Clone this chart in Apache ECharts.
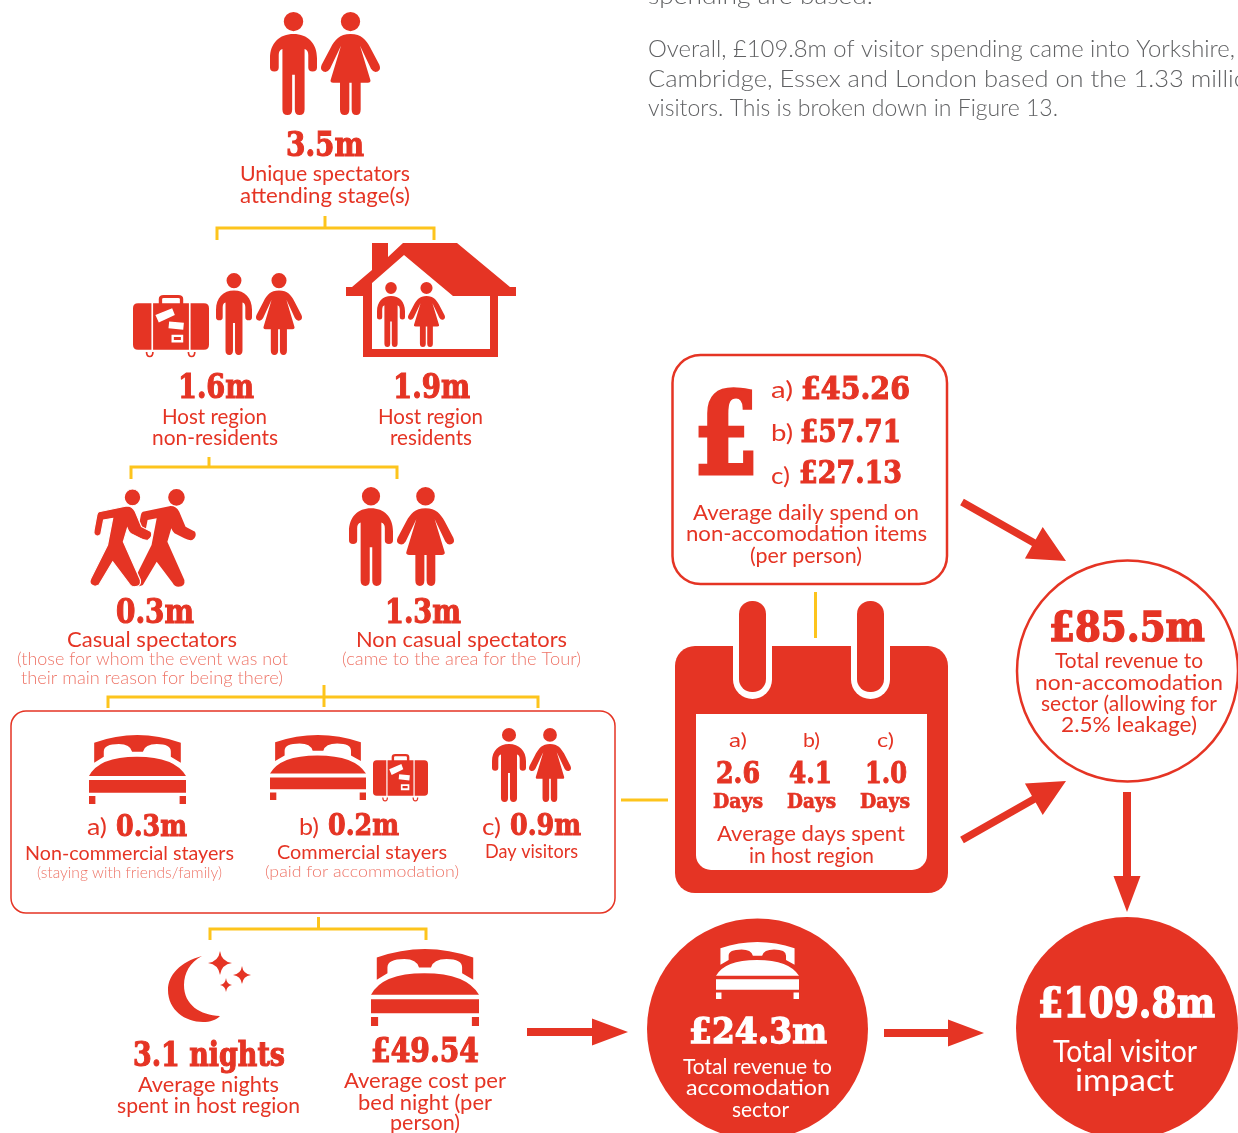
<!DOCTYPE html>
<html><head><meta charset="utf-8">
<style>html,body{margin:0;padding:0;background:#fff;overflow:hidden}#c{width:1238px;height:1133px}</style>
<script src="https://cdn.jsdelivr.net/npm/echarts@6/dist/echarts.min.js"></script>
</head><body><div id="c"></div>
<script>
// ---------- content ----------
const introLines = ['spending are based.','Overall, £109.8m of visitor spending came into Yorkshire,','Cambridge, Essex and London based on the 1.33 million','visitors. This is broken down in Figure 13.'];
const audienceValues = ['3.5m','1.6m','1.9m','0.3m','1.3m'];
const audienceLabels = [['Unique spectators','attending stage(s)'],['Host region','non-residents'],['Host region','residents'],['Casual spectators'],['Non casual spectators']];
const audienceNotes = [['(those for whom the event was not','their main reason for being there)'],['(came to the area for the Tour)']];
const stayerKeys = ['a)','b)','c)'];
const stayerValues = ['0.3m','0.2m','0.9m'];
const stayerLabels = ['Non-commercial stayers','Commercial stayers','Day visitors'];
const stayerNotes = ['(staying with friends/family)','(paid for accommodation)'];
const nightsValues = ['3.1 nights','£49.54'];
const nightsLabels = [['Average nights','spent in host region'],['Average cost per','bed night (per','person)']];
const spendValues = ['£45.26','£57.71','£27.13'];
const spendLabel = ['Average daily spend on','non-accomodation items','(per person)'];
const daysValues = ['2.6','4.1','1.0'];
const daysUnit = 'Days';
const daysLabel = ['Average days spent','in host region'];
const totalValues = ['£85.5m','£24.3m','£109.8m'];
const totalLabels = [['Total revenue to','non-accomodation','sector (allowing for','2.5% leakage)'],['Total revenue to','accomodation','sector'],['Total visitor','impact']];

// ---------- styling ----------
const RED='#e53424', YEL='#fdc41c', PALE='#ee7568', GREY='#606163';
const SANS='Lato', SERIF='"DejaVu Serif"';

// ---------- icon outlines ----------
const G=echarts.graphic;
const shapes={
 man:'M41,29 A29,29 0 1,1 99,29 A29,29 0 1,1 41,29 Z M70,67 C112,67 140,95 140,140 L140,168 Q140,180 127,180 Q114,180 114,168 L114,130 Q114,115 103,112 L103,295 Q103,312 88,312 Q74,312 74,295 L74,190 L66,190 L66,295 Q66,312 52,312 Q37,312 37,295 L37,112 Q26,115 26,130 L26,168 Q26,180 13,180 Q0,180 0,168 L0,140 C0,95 28,67 70,67 Z',
 woman:'M59.5,29 A29,29 0 1,1 117.5,29 A29,29 0 1,1 59.5,29 Z M88.5,67 C122,67 135,85 148,108 L175,160 Q181,175 170,180 Q158,185 150,172 L117,102 L147,202 Q152,214 140,214 L119,214 L119,295 Q119,312 106,312 Q92,312 92,295 L92,214 L85,214 L85,295 Q85,312 71,312 Q57,312 57,295 L57,214 L37,214 Q25,214 30,202 L60,102 L27,172 Q19,185 7,180 Q-4,175 2,160 L29,108 C42,85 55,67 88.5,67 Z',
 suitcase:'M77,25 L77,12 Q77,0 92,0 L135,0 Q150,0 150,12 L150,25 L140,25 L140,12 Q140,9 135,9 L92,9 Q87,9 87,12 L87,25 Z M15,25 L55,25 L55,165 L15,165 Q0,165 0,150 L0,40 Q0,25 15,25 Z M172,25 L212,25 Q227,25 227,40 L227,150 Q227,165 212,165 L172,165 Z M60,25 L167,25 L167,165 L60,165 Z M67,60 L77,83 L125,60 L117,40 Z M108,80 L106,100 L150,105 L152,84 Z M115,120 L115,143 L150,143 L150,120 Z M122,127 L143,127 L143,136 L122,136 Z M38,172 Q38,188 50,188 Q62,188 62,172 L57,172 Q57,183 50,183 Q43,183 43,172 Z M163,172 Q163,188 175,188 Q187,188 187,172 L182,172 Q182,183 175,183 Q168,183 168,172 Z',
 bed:'M13,23 Q121,-23 230,23 L230,83 L205,65 L205,50 Q205,27 170,27 Q140,27 135,50 L108,50 Q103,27 75,27 Q37,27 37,50 L37,65 L13,83 Z M0,123 Q25,65 120,65 Q215,65 243,123 Z M0,135 L243,135 L243,173 L0,173 Z M0,183 L16,183 L16,207 L0,207 Z M227,183 L243,183 L243,207 L227,207 Z',
 walker:'M314,82 A21,25 0 1,1 356,82 A21,25 0 1,1 314,82 Z M250,125 L320,108 Q335,108 342,125 L358,170 L382,185 Q388,200 375,210 Q365,212 355,205 L330,190 Q325,185 322,175 L312,215 L355,330 Q358,350 340,350 Q330,350 325,338 L285,275 L250,345 Q240,352 232,345 Q224,338 230,325 L272,225 L285,145 L262,150 L255,192 Q248,202 240,195 Q236,190 238,180 L245,135 Q246,128 250,125 Z',
 house:'M372,243 L388,243 L388,257 L403,243 L457,243 L510,287 L516,287 L516,296 L498,296 L498,357 L363,357 L363,296 L346,296 L346,287 L352,287 L372,270 Z M404,255 L372,283 L372,349 L490,349 L490,296 L453,296 Z',
 moon:'M202,956 C180,962 168,975 168,990 C168,1010 185,1022 203,1022 C210,1022 216,1020 220,1016 C200,1015 184,1005 184,985 C184,973 190,962 202,956 Z',
 star:'M0,-100 Q12,-12 100,0 Q12,12 0,100 Q-12,12 -100,0 Q-12,-12 0,-100 Z'
};
const boxSize={man:[140,312],woman:[177,312],suitcase:[227,190],bed:[243,207]};
Object.keys(shapes).forEach(k=>G.registerShape('ic_'+k,G.extendPath(shapes[k])));

// ---------- element helpers ----------
const els=[];
const cv=document.createElement('canvas').getContext('2d');
function put(str,x0,x1,base,size,fill,serif,weight,heavy){
  const font=(serif?'bold ':(weight?weight+' ':''))+size+'px '+(serif?SERIF:SANS);
  cv.font=font;
  cv.textBaseline='alphabetic'; const a=cv.measureText(str);
  cv.textBaseline='middle'; const b=cv.measureText(str);
  const off=b.actualBoundingBoxDescent-a.actualBoundingBoxDescent;
  const col=fill||RED, style={text:str,fill:col,font:font,textAlign:'left',textVerticalAlign:'middle'};
  if(serif){style.stroke=col;style.lineWidth=heavy||size*0.035;style.lineJoin='round';}
  els.push({type:'text',silent:true,x:x0,y:base-off,scaleX:(x1-x0)/a.width,z:5,style:style});
}
function icon(name,x0,y0,x1,y1,fill){
  const s=boxSize[name];
  els.push({type:'ic_'+name,silent:true,x:x0,y:y0,scaleX:(x1-x0)/s[0],scaleY:(y1-y0)/s[1],z:3,style:{fill:fill||RED}});
}
function couple(m0,m1,w0,w1,y0,y1){icon('man',m0,y0,m1,y1);icon('woman',w0,y0,w1,y1);}
function star(cx,cy,rx,ry){els.push({type:'ic_star',silent:true,x:cx,y:cy,scaleX:rx/100,scaleY:ry/100,z:3,style:{fill:RED}});}
function bracket(y,x0,x1,cx,stemTop,stemBot,legBot){
  els.push({type:'polyline',silent:true,z:2,shape:{points:[[x0,legBot],[x0,y],[x1,y],[x1,legBot]]},style:{stroke:YEL,lineWidth:3,fill:null}});
  els.push({type:'line',silent:true,z:2,shape:{x1:cx,y1:stemTop,x2:cx,y2:stemBot},style:{stroke:YEL,lineWidth:3}});
}
function arrow(x1,y1,x2,y2,sw,hl,hw,fill){
  const L=Math.hypot(x2-x1,y2-y1),ux=(x2-x1)/L,uy=(y2-y1)/L,nx=-uy,ny=ux;
  const bx=x2-ux*hl,by=y2-uy*hl;
  els.push({type:'polygon',silent:true,z:3,shape:{points:[
    [x1+nx*sw/2,y1+ny*sw/2],[bx+nx*sw/2,by+ny*sw/2],[bx+nx*hw/2,by+ny*hw/2],[x2,y2],
    [bx-nx*hw/2,by-ny*hw/2],[bx-nx*sw/2,by-ny*sw/2],[x1-nx*sw/2,y1-ny*sw/2]]},style:{fill:fill||RED}});
}

// ---------- intro paragraph ----------
put(introLines[0],648,873,4,24,GREY,false,300);
put(introLines[1],648,1235,57,24,GREY,false,300);
put(introLines[2],648,1262,87,24,GREY,false,300);
put(introLines[3],648,1058,116,24,GREY,false,300);

// ---------- connectors ----------
bracket(228,217,434,325,216,228,240);
bracket(467,131,397,209,457,467,479);
bracket(697,108,538,324,685,707,708);
bracket(929,210,426,318.5,917,929,940);
els.push({type:'line',silent:true,shape:{x1:621,y1:800,x2:668,y2:800},style:{stroke:YEL,lineWidth:3}});
els.push({type:'line',silent:true,shape:{x1:815.5,y1:592,x2:815.5,y2:638},style:{stroke:YEL,lineWidth:3}});

// ---------- spectator tree ----------
couple(270,317,321,380,12,115);
put(audienceValues[0],286,364,156,34,RED,true);
put(audienceLabels[0][0],240,410,181,21);
put(audienceLabels[0][1],240,410,203,21);

icon('suitcase',133,295,209,358);
couple(216,252,256,302,273,355);
put(audienceValues[1],178,254,398,33,RED,true);
put(audienceLabels[1][0],162,267,424,21);
put(audienceLabels[1][1],152,278,445,21);

els.push({type:'ic_house',silent:true,z:3,style:{fill:RED}});
couple(377,405,408,445,282,347);
put(audienceValues[2],393,470,398,33,RED,true);
put(audienceLabels[2][0],378,483,424,21);
put(audienceLabels[2][1],390,472,445,21);

els.push({type:'ic_walker',silent:true,x:44,y:470,scaleX:1/2.529,scaleY:1/3,z:3,style:{fill:RED}});
els.push({type:'ic_walker',silent:true,x:0,y:470,scaleX:1/2.529,scaleY:1/3,z:4,style:{fill:RED,stroke:'#fff',lineWidth:3}});
couple(349,393,397,454,487,586);
put(audienceValues[3],116,194,623,33,RED,true);
put(audienceValues[4],385,461,623,33,RED,true);
put(audienceLabels[3][0],67,237,647,21);
put(audienceNotes[0][0],17,288,665,18,PALE,false,300);
put(audienceNotes[0][1],21,283,684,18,PALE,false,300);
put(audienceLabels[4][0],356,567,647,21);
put(audienceNotes[1][0],342,581,665,18,PALE,false,300);

// ---------- stayer panel ----------
els.push({type:'rect',silent:true,z:1,shape:{x:11,y:711,width:604,height:202,r:15},style:{fill:'#fff',stroke:RED,lineWidth:1.5}});
icon('bed',89,735,186,804);
icon('bed',270,735,366,800);
icon('suitcase',373,754,428,802);
couple(492,526,529,571,728,802);
put(stayerKeys[0],87,107,835,24);
put(stayerValues[0],116,187,836,29,RED,true);
put(stayerLabels[0],25,234,860,19);
put(stayerNotes[0],37,222,878,15,PALE,false,300);
put(stayerKeys[1],299,319,835,24);
put(stayerValues[1],328,399,835,29,RED,true);
put(stayerLabels[1],277,447,859,19);
put(stayerNotes[1],265,459,877,15,PALE,false,300);
put(stayerKeys[2],482,501,835,24);
put(stayerValues[2],510,581,835,29,RED,true);
put(stayerLabels[2],485,578,858,19);

// ---------- nights and bed cost ----------
els.push({type:'ic_moon',silent:true,z:3,style:{fill:RED}});
star(220,963,12,12);star(242,975,9,9);star(226,985,6,7);
icon('bed',371,949,479,1026);
put(nightsValues[0],133,285,1066,33,RED,true);
put(nightsLabels[0][0],138,279,1092,21);
put(nightsLabels[0][1],117,300,1113,21);
put(nightsValues[1],371,479,1062,33,RED,true);
put(nightsLabels[1][0],344,506,1088,21);
put(nightsLabels[1][1],358,492,1110,21);
put(nightsLabels[1][2],390,460,1130,21);

// ---------- spend box ----------
els.push({type:'rect',silent:true,z:1,shape:{x:672.5,y:355,width:274.5,height:229,r:28},style:{fill:'#fff',stroke:RED,lineWidth:2.5}});
put('£',694,758,473,112,RED,true,null,5);
put(stayerKeys[0],771,793,398,24);
put(spendValues[0],801,910,399,32,RED,true);
put(stayerKeys[1],771,793,441,24);
put(spendValues[1],800,901,442,32,RED,true);
put(stayerKeys[2],771,790,484,24);
put(spendValues[2],799,902,483,32,RED,true);
put(spendLabel[0],693,919,520,21);
put(spendLabel[1],686,927,541,21);
put(spendLabel[2],750,862,563,21);

// ---------- calendar ----------
els.push({type:'rect',silent:true,z:1,shape:{x:675,y:646,width:273,height:247,r:20},style:{fill:RED}});
els.push({type:'rect',silent:true,z:2,shape:{x:696,y:714,width:231,height:156,r:[0,0,15,15]},style:{fill:'#fff'}});
[[733,772],[851,890]].forEach(r=>{
  els.push({type:'rect',silent:true,z:2,shape:{x:r[0],y:630,width:r[1]-r[0],height:69,r:[0,0,19.5,19.5]},style:{fill:'#fff'}});
  els.push({type:'rect',silent:true,z:3,shape:{x:r[0]+6,y:601,width:r[1]-r[0]-12,height:91,r:13},style:{fill:RED}});
});
const dayX=[[729,747,716,760,713,763],[803,820,789,832,787,836],[877,894,865,907,860,910]];
dayX.forEach((d,i)=>{
  put(stayerKeys[i],d[0],d[1],747,20);
  put(daysValues[i],d[2],d[3],783,30,RED,true);
  put(daysUnit,d[4],d[5],808,20,RED,true);
});
put(daysLabel[0],717,905,841,21);
put(daysLabel[1],749,874,863,21);

// ---------- totals ----------
els.push({type:'circle',silent:true,z:1,shape:{cx:1127.5,cy:671,r:110.5},style:{fill:'#fff',stroke:RED,lineWidth:2.5}});
put(totalValues[0],1049,1205,641,41,RED,true);
put(totalLabels[0][0],1055,1203,668,21);
put(totalLabels[0][1],1035,1223,690,21);
put(totalLabels[0][2],1041,1217,711,21);
put(totalLabels[0][3],1061,1197,732,21);

els.push({type:'circle',silent:true,z:1,shape:{cx:757.5,cy:1029,r:110.5},style:{fill:RED}});
icon('bed',716,942,799,999,'#fff');
put(totalValues[1],689,827,1043,36,'#fff',true);
put(totalLabels[1][0],683,832,1074,21,'#fff');
put(totalLabels[1][1],686,830,1095,21,'#fff');
put(totalLabels[1][2],732,789,1117,21,'#fff');

els.push({type:'circle',silent:true,z:1,shape:{cx:1127,cy:1028,r:111},style:{fill:RED}});
put(totalValues[2],1038,1215,1017,41,'#fff',true);
put(totalLabels[2][0],1053,1197,1062,31,'#fff');
put(totalLabels[2][1],1075,1174,1091,31,'#fff');

// ---------- arrows ----------
arrow(962,502,1066,561,7.5,37,36);
arrow(962,840,1066,781,7.5,37,36);
arrow(1127,792,1127,912,8,36,27);
arrow(527,1032,628,1032,8,36,27);
arrow(884,1033,984,1033,8,36,27);

const chart=echarts.init(document.getElementById('c'),null,{renderer:'canvas',width:1238,height:1133});
chart.setOption({animation:false,backgroundColor:'#fff',graphic:{elements:els}});
</script></body></html>
